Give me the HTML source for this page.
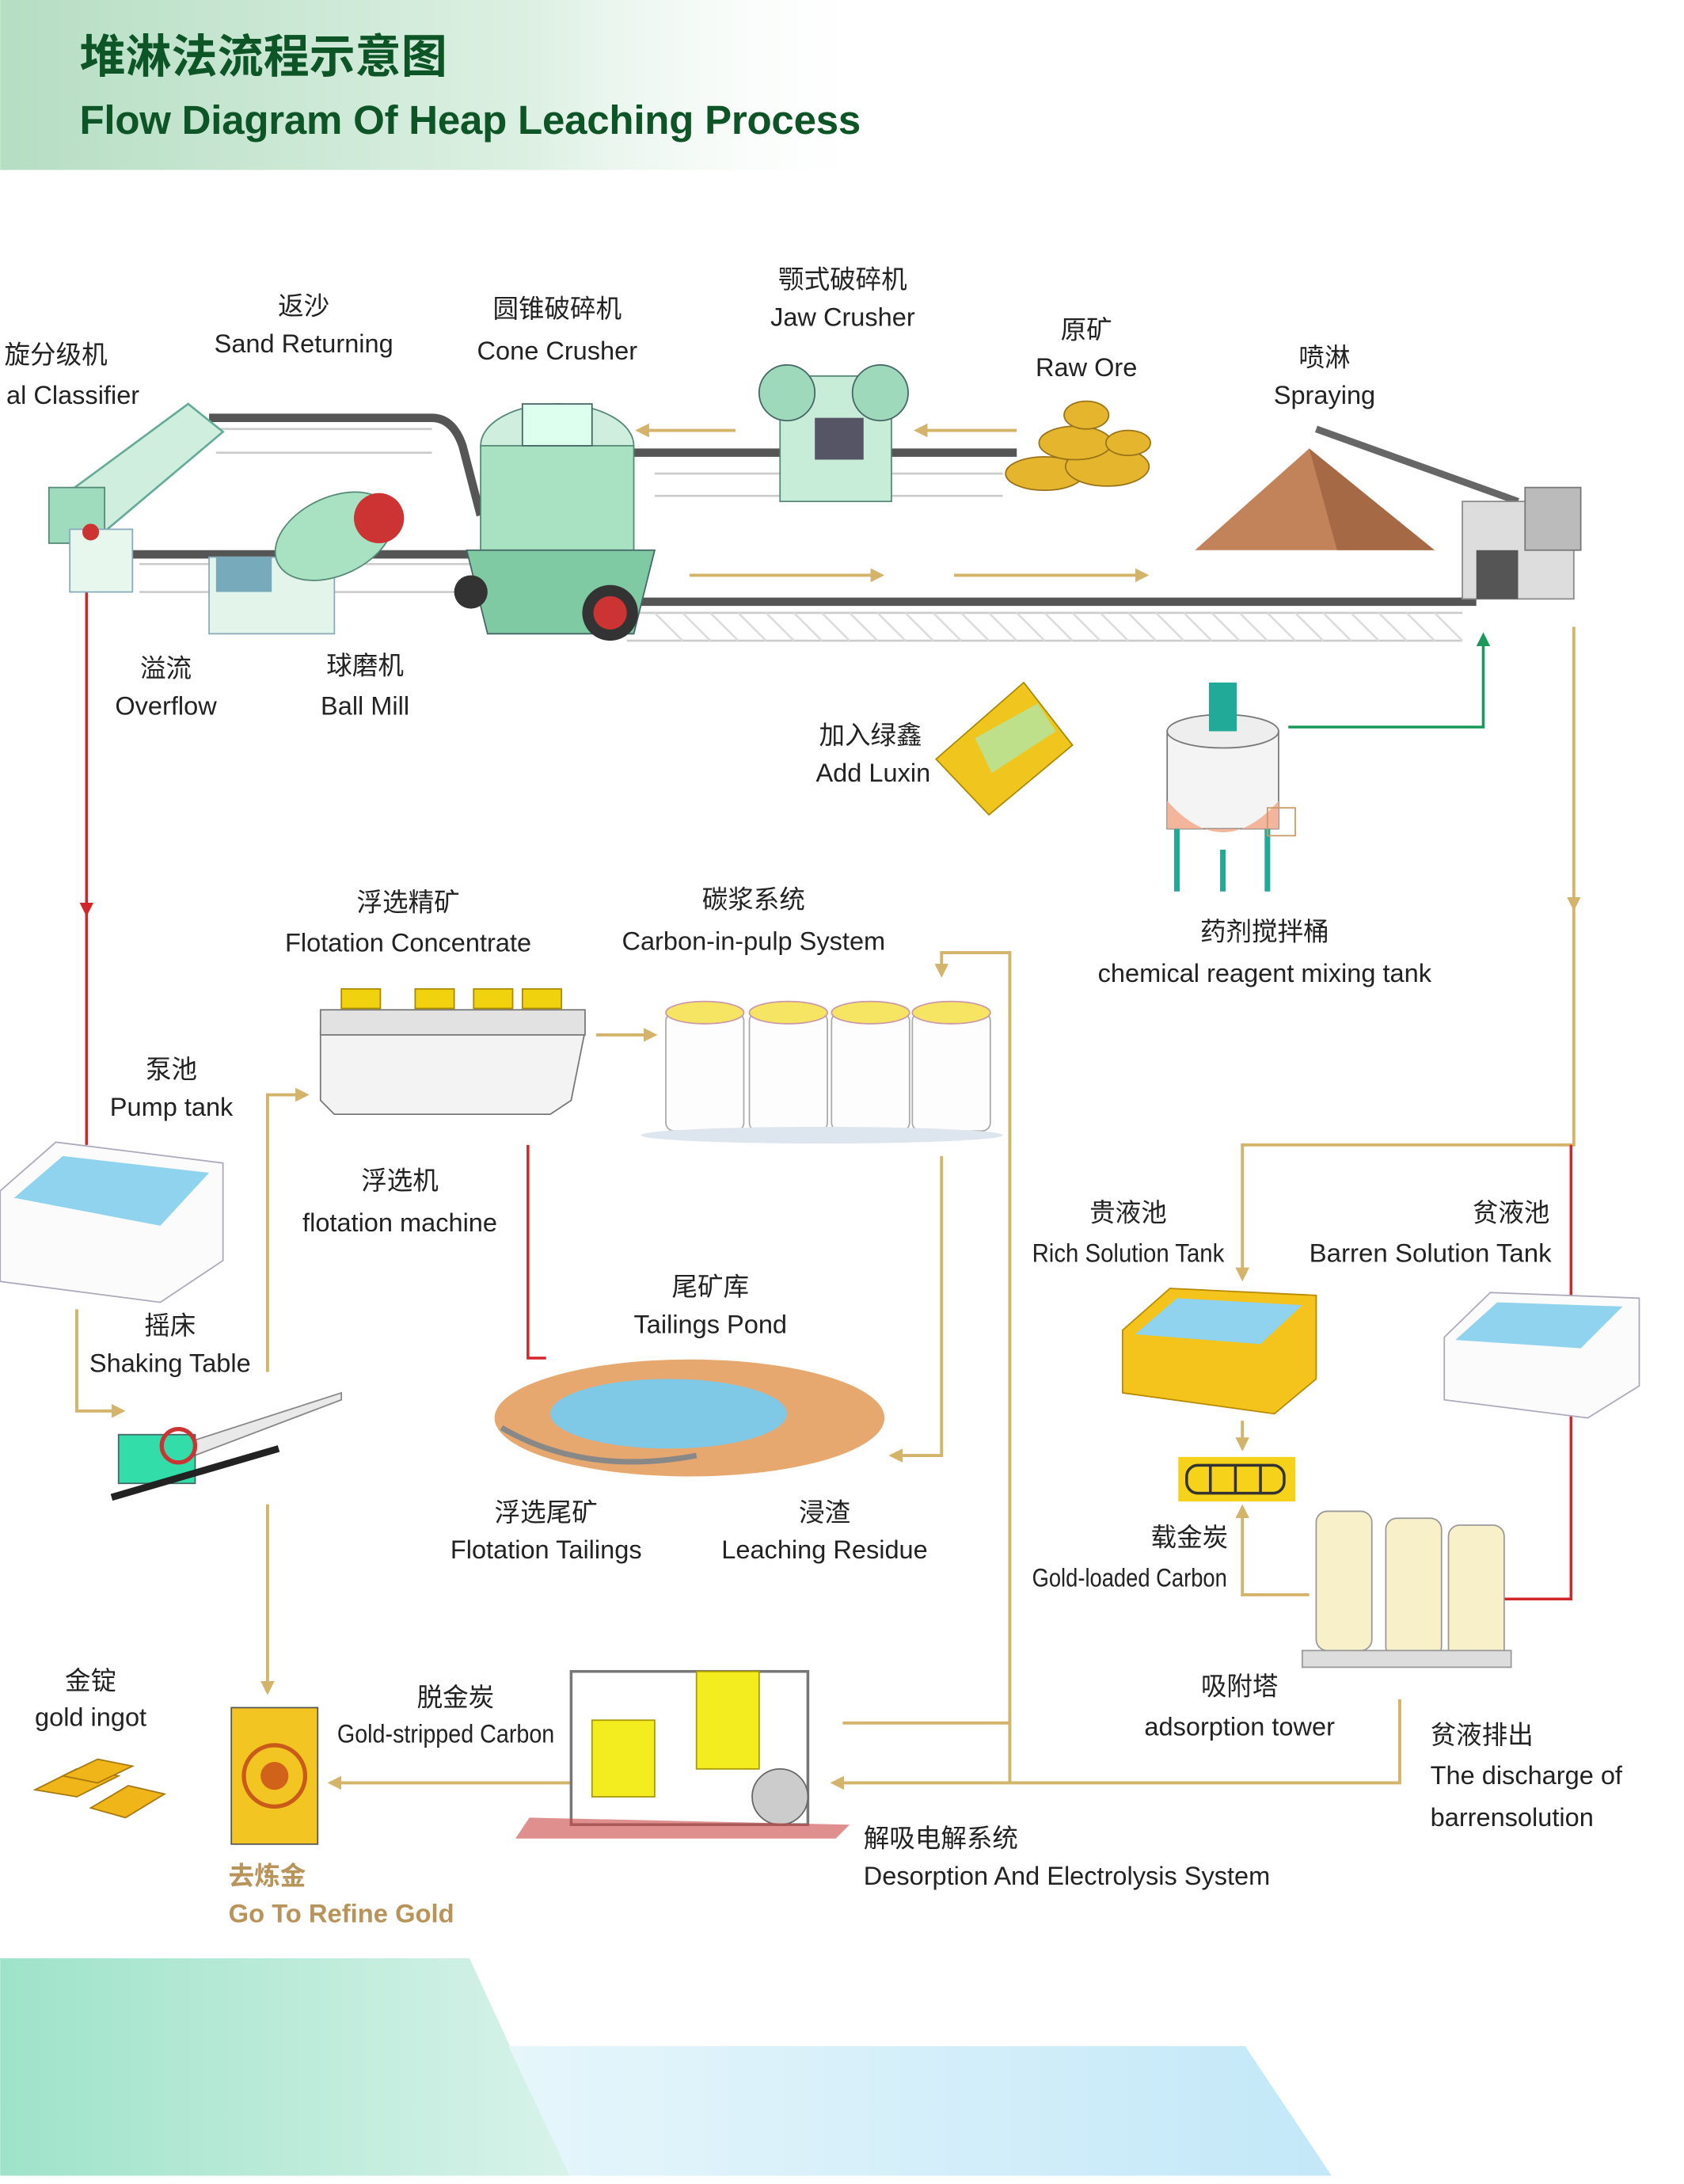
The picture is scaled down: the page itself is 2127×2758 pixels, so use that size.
<!DOCTYPE html>
<html><head><meta charset="utf-8"><style>
html,body{margin:0;padding:0;background:#fff}
svg{display:block}
text{font-family:"Liberation Sans","Noto Sans CJK SC",sans-serif;fill:#222}
</style></head><body>
<svg width="2127" height="2758" viewBox="0 0 1209 1568" xmlns="http://www.w3.org/2000/svg">
<defs>
<linearGradient id="hg" x1="0" x2="1" y1="0" y2="0"><stop offset="0" stop-color="#b5dec3"/><stop offset="0.6" stop-color="#ddf0e3"/><stop offset="1" stop-color="#fff" stop-opacity="0"/></linearGradient>
<linearGradient id="bg1" x1="0" x2="1"><stop offset="0" stop-color="#9ee3c9"/><stop offset="1" stop-color="#d8f3ea"/></linearGradient>
<linearGradient id="bg2" x1="0" x2="1"><stop offset="0" stop-color="#e6f6fb"/><stop offset="1" stop-color="#c3e8f8"/></linearGradient>
<marker id="ag" markerWidth="10" markerHeight="10" refX="8" refY="5" orient="auto" markerUnits="userSpaceOnUse"><path d="M0,0 L10,5 L0,10 z" fill="#d4b36a"/></marker>
<marker id="ar" markerWidth="10" markerHeight="10" refX="8" refY="5" orient="auto" markerUnits="userSpaceOnUse"><path d="M0,0 L10,5 L0,10 z" fill="#d3262a"/></marker>
<marker id="agr" markerWidth="10" markerHeight="10" refX="8" refY="5" orient="auto" markerUnits="userSpaceOnUse"><path d="M0,0 L10,5 L0,10 z" fill="#1a9a5a"/></marker>
</defs>
<rect x="0" y="0" width="640" height="122" fill="url(#hg)"/>
<text x="57" y="52" font-size="33" font-weight="bold" style="fill:#0d5426">堆淋法流程示意图</text>
<text x="57" y="96" font-size="29" font-weight="bold" style="fill:#0d5426" textLength="561">Flow Diagram Of Heap Leaching Process</text>

<!-- bottom bands -->
<polygon points="0,1469 956,1469 956,1469 956,1562 0,1562" fill="none"/>
<polygon points="0,1406 337,1406 409,1562 0,1562" fill="url(#bg1)"/>
<polygon points="365,1469 894,1469 956,1562 409,1562" fill="url(#bg2)"/>

<!-- conveyors -->
<g stroke="#555" stroke-width="6" fill="none">
<path d="M150,300 L310,300 Q325,300 332,320 L345,370"/>
<path d="M95,398 L345,398"/>
<path d="M450,325 L730,325"/>
<path d="M460,432 L1060,432"/>
</g>
<g stroke="#ccc" stroke-width="1.5" fill="none">
<path d="M155,308 L310,308 M155,325 L310,325"/>
<path d="M470,340 L720,340 M470,356 L720,356"/>
<path d="M450,440 L1050,440 M450,460 L1050,460"/>
<path d="M100,405 L340,405 M100,425 L340,425"/>
</g>
<g stroke="#ddd" stroke-width="1.5">
<path d="M470,440 l20,20 m0,-20 l20,20 m0,-20 l20,20 m0,-20 l20,20 m0,-20 l20,20 m0,-20 l20,20 m0,-20 l20,20 m0,-20 l20,20 m0,-20 l20,20 m0,-20 l20,20 m0,-20 l20,20 m0,-20 l20,20 m0,-20 l20,20 m0,-20 l20,20 m0,-20 l20,20 m0,-20 l20,20 m0,-20 l20,20 m0,-20 l20,20 m0,-20 l20,20 m0,-20 l20,20 m0,-20 l20,20 m0,-20 l20,20 m0,-20 l20,20 m0,-20 l20,20 m0,-20 l20,20 m0,-20 l20,20 m0,-20 l20,20 m0,-20 l20,20 m0,-20 l20,20"/>
</g>

<!-- gold arrows / connectors -->
<g stroke="#d4b36a" stroke-width="2.2" fill="none">
<path d="M528,309 L458,309" marker-end="url(#ag)"/>
<path d="M730,309 L658,309" marker-end="url(#ag)"/>
<path d="M495,413 L633,413" marker-end="url(#ag)"/>
<path d="M685,413 L823,413" marker-end="url(#ag)"/>
<path d="M55,940 L55,1013 L88,1013" marker-end="url(#ag)"/>
<path d="M192,985 L192,786 L220,786" marker-end="url(#ag)"/>
<path d="M428,743 L470,743" marker-end="url(#ag)"/>
<path d="M725,1280 L725,684 L676,684 L676,700" marker-end="url(#ag)"/>
<path d="M676,830 L676,1045 L640,1045" marker-end="url(#ag)"/>
<path d="M192,1080 L192,1215" marker-end="url(#ag)"/>
<path d="M1005,1220 L1005,1280 L598,1280" marker-end="url(#ag)"/>
<path d="M725,1237 L605,1237"/>
<path d="M410,1280 L237,1280" marker-end="url(#ag)"/>
<path d="M1130,450 L1130,652" marker-end="url(#ag)"/>
<path d="M1130,652 L1130,822 L892,822 L892,918" marker-end="url(#ag)"/>
<path d="M892,1020 L892,1040" marker-end="url(#ag)"/>
<path d="M940,1145 L892,1145 L892,1082" marker-end="url(#ag)"/>
</g>
<g stroke="#d3262a" stroke-width="2" fill="none">
<path d="M62,410 L62,656" marker-end="url(#ar)"/>
<path d="M62,656 L62,822"/>
<path d="M379,822 L379,975 L392,975"/>
<path d="M1128,822 L1128,1148 L1080,1148"/>
</g>
<path d="M925,522 L1065,522 L1065,456" stroke="#1a9a5a" stroke-width="2" fill="none" marker-end="url(#agr)"/>

<!-- equipment simplified -->
<!-- classifier -->
<g>
<polygon points="40,360 135,290 160,310 65,390" fill="#cfeedd" stroke="#6a9" stroke-width="1.5"/>
<rect x="35" y="350" width="40" height="40" fill="#9fdcbd" stroke="#587" />
<rect x="50" y="380" width="45" height="45" fill="#e8f7ee" stroke="#8ab"/>
<circle cx="65" cy="382" r="6" fill="#c33"/>
</g>
<!-- ball mill -->
<g>
<rect x="150" y="400" width="90" height="55" fill="#e3f5ea" stroke="#8ab"/>
<ellipse cx="240" cy="385" rx="45" ry="28" fill="#a8e2c2" stroke="#587" transform="rotate(-25 240 385)"/>
<circle cx="272" cy="372" r="18" fill="#c33"/>
<rect x="155" y="400" width="40" height="25" fill="#7ab" />
</g>
<!-- cone crusher -->
<g>
<ellipse cx="400" cy="320" rx="55" ry="30" fill="#cfeedd" stroke="#587"/>
<rect x="345" y="320" width="110" height="80" fill="#a8e2c2" stroke="#587"/>
<polygon points="335,395 470,395 455,455 350,455" fill="#7fc9a3" stroke="#466"/>
<rect x="375" y="290" width="50" height="30" fill="#dfe" stroke="#466"/>
<circle cx="438" cy="440" r="20" fill="#333"/><circle cx="438" cy="440" r="12" fill="#c33"/>
<circle cx="338" cy="425" r="12" fill="#333"/>
</g>
<!-- jaw crusher -->
<g>
<rect x="560" y="270" width="80" height="90" fill="#c7ecd8" stroke="#587"/>
<circle cx="565" cy="282" r="20" fill="#9fd9bb" stroke="#466"/>
<circle cx="632" cy="282" r="20" fill="#9fd9bb" stroke="#466"/>
<rect x="585" y="300" width="35" height="30" fill="#556"/>
</g>
<!-- raw ore -->
<g fill="#e6b52e" stroke="#9a7318" stroke-width="1">
<ellipse cx="750" cy="340" rx="28" ry="12"/><ellipse cx="795" cy="335" rx="30" ry="14"/>
<ellipse cx="772" cy="318" rx="26" ry="12"/><ellipse cx="780" cy="298" rx="16" ry="10"/><ellipse cx="810" cy="318" rx="16" ry="9"/>
</g>
<!-- heap & spraying -->
<g>
<polygon points="858,395 940,322 1030,395" fill="#c2835a"/>
<polygon points="940,322 1030,395 960,395" fill="#a56a45"/>
<path d="M945,308 L1090,360" stroke="#666" stroke-width="5"/>
<rect x="1050" y="360" width="80" height="70" fill="#ddd" stroke="#888"/>
<rect x="1095" y="350" width="40" height="45" fill="#bbb" stroke="#777"/>
<rect x="1060" y="395" width="30" height="35" fill="#555"/>
</g>
<!-- bag + mixer -->
<g>
<polygon points="672,545 735,490 770,535 710,585" fill="#efc51e" stroke="#a80"/>
<polygon points="700,530 745,505 758,525 712,555" fill="#bfe08a"/>
<rect x="838" y="525" width="80" height="70" fill="#f4f4f4" stroke="#777"/>
<ellipse cx="878" cy="525" rx="40" ry="12" fill="#eee" stroke="#777"/>
<path d="M838,575 Q878,620 918,575 L918,595 L838,595z" fill="#f3b59b"/>
<rect x="868" y="490" width="20" height="35" fill="#2a9" />
<path d="M845,595 L845,640 M910,595 L910,640 M878,610 L878,640" stroke="#2a9" stroke-width="4"/>
<rect x="910" y="580" width="20" height="20" fill="none" stroke="#c96"/>
</g>
<!-- flotation machine -->
<g>
<polygon points="230,740 420,740 410,790 395,800 240,800 230,790" fill="#f3f3f3" stroke="#777"/>
<rect x="230" y="725" width="190" height="18" fill="#e2e2e2" stroke="#777"/>
<g fill="#f0d20f" stroke="#a80"><rect x="245" y="710" width="28" height="14"/><rect x="298" y="710" width="28" height="14"/><rect x="340" y="710" width="28" height="14"/><rect x="375" y="710" width="28" height="14"/></g>
</g>
<!-- CIP tanks -->
<g fill="#fdfdfd" stroke="#aaa">
<rect x="478" y="727" width="56" height="85" rx="6"/><rect x="538" y="727" width="56" height="85" rx="6"/><rect x="597" y="727" width="56" height="85" rx="6"/><rect x="655" y="727" width="56" height="85" rx="6"/>
</g>
<g fill="#f6e463" stroke="#c9a"><ellipse cx="506" cy="727" rx="28" ry="8"/><ellipse cx="566" cy="727" rx="28" ry="8"/><ellipse cx="625" cy="727" rx="28" ry="8"/><ellipse cx="683" cy="727" rx="28" ry="8"/></g>
<ellipse cx="590" cy="815" rx="130" ry="6" fill="#dde6ef"/>
<!-- pump tank -->
<g>
<polygon points="0,855 40,820 160,835 160,905 115,935 0,920" fill="#fbfbfb" stroke="#aab"/>
<polygon points="10,860 45,830 150,842 115,880" fill="#8fd3ef"/>
</g>
<!-- shaking table -->
<g>
<polygon points="90,1050 245,1000 245,1005 100,1060" fill="#e9e9e9" stroke="#888"/>
<rect x="85" y="1030" width="55" height="35" fill="#3da" stroke="#466"/>
<circle cx="128" cy="1038" r="12" fill="none" stroke="#c33" stroke-width="3"/>
<path d="M80,1075 L200,1040" stroke="#222" stroke-width="5"/>
</g>
<!-- tailings pond -->
<g>
<ellipse cx="495" cy="1018" rx="140" ry="42" fill="#e7a86f"/>
<ellipse cx="480" cy="1015" rx="85" ry="25" fill="#7fc8e6"/>
<path d="M360,1025 Q420,1060 500,1045" stroke="#888" stroke-width="4" fill="none"/>
</g>
<!-- rich tank -->
<g>
<polygon points="806,955 840,925 945,930 945,990 915,1015 806,1000" fill="#f4c31c" stroke="#b88a00"/>
<polygon points="815,958 845,932 935,937 905,965" fill="#8fd3ef"/>
</g>
<!-- barren tank -->
<g>
<polygon points="1037,960 1070,928 1177,932 1177,995 1140,1018 1037,1005" fill="#fbfbfb" stroke="#aab"/>
<polygon points="1045,962 1075,935 1165,938 1135,968" fill="#8fd3ef"/>
</g>
<!-- carbon -->
<rect x="846" y="1046" width="84" height="32" fill="#f6d21a"/>
<rect x="852" y="1052" width="70" height="20" rx="8" fill="none" stroke="#333" stroke-width="2"/>
<path d="M869,1052 L869,1072 M887,1052 L887,1072 M905,1052 L905,1072" stroke="#333" stroke-width="2"/>
<!-- adsorption towers -->
<g fill="#f8f0c8" stroke="#999">
<rect x="945" y="1085" width="40" height="100" rx="8"/><rect x="995" y="1090" width="40" height="100" rx="8"/><rect x="1040" y="1095" width="40" height="100" rx="8"/>
</g>
<rect x="935" y="1185" width="150" height="12" fill="#ddd" stroke="#999"/>
<!-- desorption -->
<g>
<rect x="410" y="1200" width="170" height="110" fill="none" stroke="#777" stroke-width="2"/>
<rect x="425" y="1235" width="45" height="55" fill="#f3ec1f" stroke="#a90"/>
<rect x="500" y="1200" width="45" height="70" fill="#f3ec1f" stroke="#a90"/>
<circle cx="560" cy="1290" r="20" fill="#ccc" stroke="#666"/>
<polygon points="370,1320 600,1320 610,1310 380,1305" fill="#c44" opacity="0.6"/>
</g>
<!-- refine box -->
<rect x="166" y="1226" width="62" height="98" fill="#f3c523" stroke="#555"/>
<circle cx="197" cy="1275" r="22" fill="none" stroke="#c85a1a" stroke-width="3"/>
<circle cx="197" cy="1275" r="10" fill="#d0621a"/>
<!-- gold ingots -->
<g fill="#f0b519" stroke="#a77710">
<polygon points="25,1285 55,1270 85,1275 55,1290"/><polygon points="65,1298 92,1282 118,1288 90,1305"/><polygon points="45,1275 70,1263 95,1268 70,1280"/>
</g>

<!-- labels -->
<g font-size="18.5" text-anchor="middle">
<text x="218" y="226">返沙</text><text x="218" y="253">Sand Returning</text>
<text x="400" y="228">圆锥破碎机</text><text x="400" y="258">Cone Crusher</text>
<text x="605" y="207">颚式破碎机</text><text x="605" y="234">Jaw Crusher</text>
<text x="780" y="243">原矿</text><text x="780" y="270">Raw Ore</text>
<text x="951" y="263">喷淋</text><text x="951" y="290">Spraying</text>
<text x="119" y="486">溢流</text><text x="119" y="513">Overflow</text>
<text x="262" y="484">球磨机</text><text x="262" y="513">Ball Mill</text>
<text x="908" y="675">药剂搅拌桶</text><text x="908" y="705">chemical reagent mixing tank</text>
<text x="293" y="654">浮选精矿</text><text x="293" y="683">Flotation Concentrate</text>
<text x="541" y="652">碳浆系统</text><text x="541" y="682">Carbon-in-pulp System</text>
<text x="123" y="774">泵池</text><text x="123" y="801">Pump tank</text>
<text x="287" y="854">浮选机</text><text x="287" y="884">flotation machine</text>
<text x="810" y="877">贵液池</text><text x="810" y="906" textLength="138" lengthAdjust="spacingAndGlyphs">Rich Solution Tank</text>
<text x="1085" y="877">贫液池</text><text x="1027" y="906" textLength="174" lengthAdjust="spacingAndGlyphs">Barren Solution Tank</text>
<text x="510" y="930">尾矿库</text><text x="510" y="957">Tailings Pond</text>
<text x="122" y="958">摇床</text><text x="122" y="985">Shaking Table</text>
<text x="392" y="1092">浮选尾矿</text><text x="392" y="1119">Flotation Tailings</text>
<text x="592" y="1092">浸渣</text><text x="592" y="1119">Leaching Residue</text>
<text x="854" y="1110">载金炭</text><text x="811" y="1139" textLength="140" lengthAdjust="spacingAndGlyphs">Gold-loaded Carbon</text>
<text x="890" y="1217">吸附塔</text><text x="890" y="1246">adsorption tower</text>
<text x="65" y="1213">金锭</text><text x="65" y="1239">gold ingot</text>
<text x="327" y="1225">脱金炭</text><text x="320" y="1251" textLength="156" lengthAdjust="spacingAndGlyphs">Gold-stripped Carbon</text>
</g>
<g font-size="18.5" text-anchor="end">
<text x="77" y="261">旋分级机</text><text x="100" y="290">al Classifier</text>
<text x="662" y="534">加入绿鑫</text><text x="668" y="561">Add Luxin</text>
</g>
<g font-size="18.5">
<text x="1027" y="1252">贫液排出</text><text x="1027" y="1281">The discharge of</text><text x="1027" y="1311">barrensolution</text>
<text x="620" y="1326">解吸电解系统</text><text x="620" y="1353">Desorption And Electrolysis System</text>
<text x="164" y="1353" style="fill:#b8935a" font-weight="bold">去炼金</text><text x="164" y="1380" style="fill:#b8935a" font-weight="bold" textLength="162" lengthAdjust="spacingAndGlyphs">Go To Refine Gold</text>
</g>
</svg>
</body></html>
